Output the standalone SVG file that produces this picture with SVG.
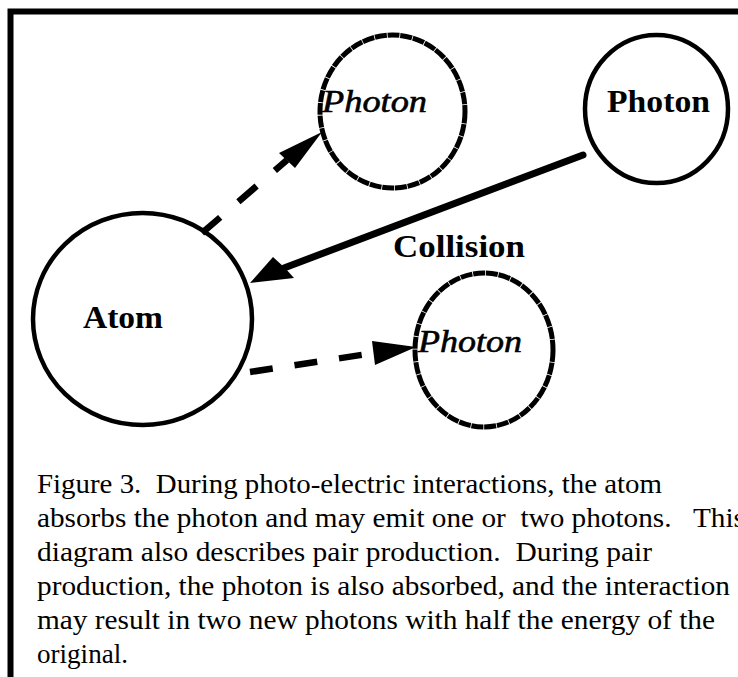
<svg xmlns="http://www.w3.org/2000/svg" width="738" height="677" viewBox="0 0 738 677">
<style>
.node{fill:none;stroke:#000;stroke-width:4.5}
.rough{stroke-width:5;stroke-dasharray:12 0.8}
.lbl{font-family:"Liberation Serif","Times New Roman",serif;font-size:32px;fill:#000}
.b{font-weight:bold}
.i{font-style:italic;stroke:#000;stroke-width:0.6}
.dash{fill:none;stroke:#000;stroke-width:6.5}
.head{fill:#000;stroke:none}
.cap{font-family:"Liberation Serif","Times New Roman",serif;font-size:26.5px;fill:#000;white-space:pre}
</style>
<rect width="738" height="677" fill="#fff"/>
<path d="M10.5,677 V11.5 H738" fill="none" stroke="#000" stroke-width="6"/>
<g id="atom">
<ellipse class="node" cx="142.5" cy="319" rx="109.5" ry="106"/>
<text class="lbl b" x="83" y="328" textLength="80" lengthAdjust="spacingAndGlyphs">Atom</text>
</g>
<g id="photon-in">
<ellipse class="node" cx="656.5" cy="109" rx="71.5" ry="74"/>
<text class="lbl b" x="607" y="112" textLength="103" lengthAdjust="spacingAndGlyphs">Photon</text>
</g>
<g id="photon-out-1">
<ellipse class="node rough" cx="392.5" cy="111.5" rx="72.5" ry="76.5"/>
<text class="lbl i" x="322" y="112" textLength="105" lengthAdjust="spacingAndGlyphs">Photon</text>
</g>
<g id="photon-out-2">
<ellipse class="node rough" cx="484" cy="350" rx="69" ry="77"/>
<text class="lbl i" x="418" y="352" textLength="104" lengthAdjust="spacingAndGlyphs">Photon</text>
</g>
<g id="connectors">
<line x1="583" y1="155" x2="284" y2="268" stroke="#000" stroke-width="7" stroke-linecap="round"/>
<polygon class="head" points="250,283 273,257 285,268 294,278"/>
<text class="lbl b" x="393" y="257" textLength="132" lengthAdjust="spacingAndGlyphs">Collision</text>
<line class="dash" x1="202" y1="233" x2="287" y2="160" stroke-dasharray="24 24"/>
<polygon class="head" points="322,132 279,153 295,168"/>
<line class="dash" x1="250" y1="372" x2="374" y2="353" stroke-dasharray="23 22"/>
<polygon class="head" points="416,347 372,341 375,365"/>
</g>
<g id="caption">
<text class="cap" x="37" y="493" textLength="625" lengthAdjust="spacingAndGlyphs">Figure 3.  During photo-electric interactions, the atom</text>
<text class="cap" x="37" y="527" textLength="708" lengthAdjust="spacingAndGlyphs">absorbs the photon and may emit one or  two photons.   This</text>
<text class="cap" x="37" y="561" textLength="615" lengthAdjust="spacingAndGlyphs">diagram also describes pair production.  During pair</text>
<text class="cap" x="37" y="595" textLength="693" lengthAdjust="spacingAndGlyphs">production, the photon is also absorbed, and the interaction</text>
<text class="cap" x="37" y="629" textLength="678" lengthAdjust="spacingAndGlyphs">may result in two new photons with half the energy of the</text>
<text class="cap" x="37" y="663" textLength="91" lengthAdjust="spacingAndGlyphs">original.</text>
</g>
</svg>
